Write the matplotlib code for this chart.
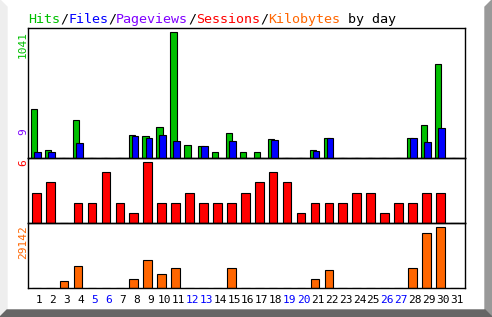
import matplotlib
matplotlib.use("Agg")
import matplotlib.pyplot as plt
from matplotlib.patches import Polygon

days = list(range(1, 32))
hits = [405, 66, 0, 314, 0, 0, 0, 190, 182, 256, 1041, 107, 99, 50, 207, 50,
        50, 157, 0, 0, 66, 165, 0, 0, 0, 0, 0, 165, 273, 777, 0]
files = [50, 50, 0, 124, 0, 0, 0, 182, 165, 190, 140, 0, 99, 0, 140, 0,
         0, 149, 0, 0, 58, 165, 0, 0, 0, 0, 0, 165, 132, 248, 0]
sessions = [3, 4, 0, 2, 2, 5, 2, 1, 6, 2, 2, 3, 2, 2, 2, 3,
            4, 5, 4, 1, 2, 2, 2, 3, 3, 1, 2, 2, 3, 3, 0]
kbytes = [0, 0, 3340, 10500, 0, 0, 0, 4300, 13380, 6690, 9550, 0, 0, 0, 9550, 0,
          0, 0, 0, 0, 4300, 8600, 0, 0, 0, 0, 0, 9550, 26280, 29142, 0]
weekend = [5, 6, 12, 13, 19, 20, 26, 27]
max_pageviews = 9

W, H = 492, 317
fig = plt.figure(figsize=(W / 100, H / 100), dpi=100)

# frame / bevel in pixel coords
bg = fig.add_axes([0, 0, 1, 1])
bg.set_xlim(0, W)
bg.set_ylim(H, 0)
bg.axis("off")
bg.add_patch(Polygon([(0, 0), (W, 0), (W, H), (0, H)], color="white"))
bg.add_patch(Polygon([(0, 0), (7, 7), (7, 310), (0, H)], color="#eeeeee"))
bg.add_patch(Polygon([(W, 0), (W, H), (485, 310), (485, 7)], color="#999999"))
bg.add_patch(Polygon([(0, H), (7, 310), (485, 310), (W, H)], color="#666666"))

def px_ax(top, bottom):
    return fig.add_axes([28 / W, (H - bottom) / H, (465 - 28) / W, (bottom - top) / H])

ax1 = px_ax(28, 158)
ax2 = px_ax(158, 223)
ax3 = px_ax(223, 288)

lw = 0.8
ax1.bar([d for d in days], hits, width=0.45, align="edge", color="#00c000",
        edgecolor="black", linewidth=lw, zorder=2)
ax1.bar([d + 0.22 for d in days], files, width=0.48, align="edge", color="#0000ff",
        edgecolor="black", linewidth=lw, zorder=3)
ax2.bar([d + 0.07 for d in days], sessions, width=0.62, align="edge", color="#ff0000",
        edgecolor="black", linewidth=lw)
ax3.bar([d + 0.07 for d in days], kbytes, width=0.62, align="edge", color="#ff6600",
        edgecolor="black", linewidth=lw)

ax1.set_ylim(0, max(hits) * 130 / 126)
ax2.set_ylim(0, max(sessions) * 65 / 61)
ax3.set_ylim(0, max(kbytes) * 65 / 61)
for ax in (ax1, ax2, ax3):
    ax.set_xlim(0.785, 32.15)
    ax.set_xticks([])
    ax.set_yticks([])
    ax.patch.set_alpha(0)
    for s in ax.spines.values():
        s.set_linewidth(1.0)

mono = "DejaVu Sans Mono"

# title
parts = [("Hits", "#00c000"), ("/", "black"), ("Files", "#0000ff"), ("/", "black"),
         ("Pageviews", "#8000ff"), ("/", "black"), ("Sessions", "#ff0000"), ("/", "black"),
         ("Kilobytes", "#ff6600"), (" by day", "black")]
x = 28
for txt, col in parts:
    bg.text(x, 23, txt, color=col, family=mono, fontsize=9.6, va="baseline", ha="left")
    x += 8 * len(txt)

# y labels
bg.text(23, 31, str(max(hits)), color="#00c000", family=mono, fontsize=8,
        rotation=90, ha="center", va="top")
bg.text(23, 132, str(max_pageviews), color="#8000ff", family=mono, fontsize=8,
        rotation=90, ha="center", va="center")
bg.text(23, 159, str(max(sessions)), color="#ff0000", family=mono, fontsize=8,
        rotation=90, ha="center", va="top")
bg.text(23, 225, str(max(kbytes)), color="#ff6600", family=mono, fontsize=8,
        rotation=90, ha="center", va="top")

# day labels
for d in days:
    ax3.text(d + 0.57, -0.23, str(d), transform=ax3.get_xaxis_transform(),
             color="#0000ff" if d in weekend else "black", family=mono,
             fontsize=8, ha="center", va="baseline")

fig.savefig("out.png", dpi=100)
